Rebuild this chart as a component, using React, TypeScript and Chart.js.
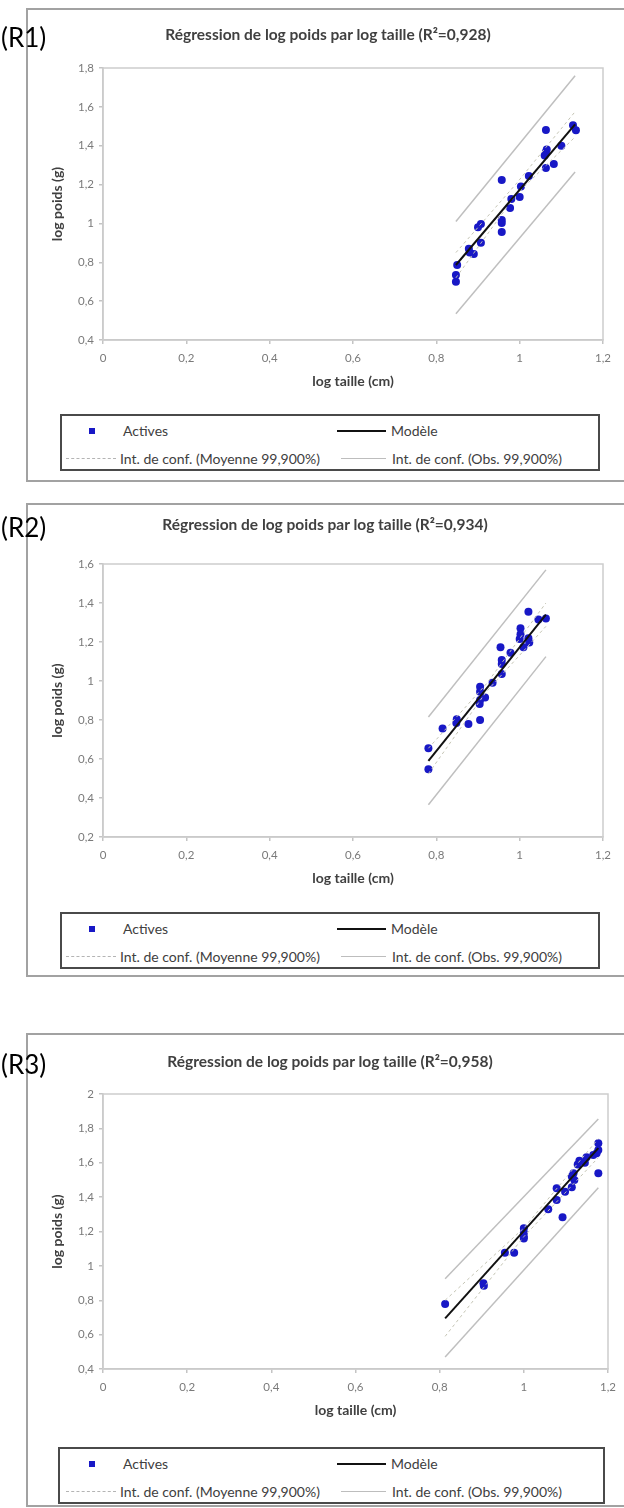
import { useEffect, useRef } from 'react';
import { Chart, registerables } from 'chart.js';

Chart.register(...registerables);

// ---------- shared labels ----------
const legendLabels = [
  'Actives',
  'Modèle',
  'Int. de conf. (Moyenne 99,900%)',
  'Int. de conf. (Obs. 99,900%)',
];
const xAxisTitle = 'log taille (cm)';
const yAxisTitle = 'log poids (g)';
const xTickValues = [0, 0.2, 0.4, 0.6, 0.8, 1, 1.2];

// ---------- R1 ----------
const r1Title = 'Régression de log poids par log taille (R²=0,928)';
const r1YTicks = [0.4, 0.6, 0.8, 1, 1.2, 1.4, 1.6, 1.8];
const r1X = [1.063, 1.128, 1.135, 1.063, 1.065, 1.06, 1.1, 1.063, 1.082, 1.022, 0.957, 1.003, 1.0, 0.98, 0.977, 0.957, 0.957, 0.957, 0.907, 0.9, 0.907, 0.878, 0.88, 0.89, 0.85, 0.847, 0.847];
const r1Y = [1.481, 1.505, 1.48, 1.368, 1.38, 1.35, 1.4, 1.285, 1.306, 1.244, 1.224, 1.19, 1.136, 1.126, 1.08, 1.018, 1.002, 0.956, 0.997, 0.98, 0.9, 0.87, 0.85, 0.843, 0.786, 0.735, 0.7];
const r1ModelX = [0.847, 1.133];
const r1ModelY = [0.786, 1.51];
const r1MeanX = [0.847, 0.99, 1.133];
const r1MeanUpper = [0.85, 1.2, 1.575];
const r1MeanLower = [0.72, 1.145, 1.445];
const r1ObsX = [0.847, 1.133];
const r1ObsUpper = [1.01, 1.76];
const r1ObsLower = [0.535, 1.265];

// ---------- R2 ----------
const r2Title = 'Régression de log poids par log taille (R²=0,934)';
const r2YTicks = [0.2, 0.4, 0.6, 0.8, 1, 1.2, 1.4, 1.6];
const r2X = [1.021, 1.045, 1.063, 1.002, 1.002, 1.021, 1.023, 1.009, 1.0, 0.954, 0.978, 0.957, 0.957, 0.957, 0.935, 0.905, 0.905, 0.917, 0.905, 0.904, 0.905, 0.877, 0.849, 0.848, 0.815, 0.781, 0.781];
const r2Y = [1.355, 1.316, 1.32, 1.27, 1.24, 1.219, 1.197, 1.173, 1.215, 1.173, 1.145, 1.108, 1.087, 1.036, 0.991, 0.971, 0.945, 0.916, 0.902, 0.882, 0.8, 0.78, 0.804, 0.785, 0.757, 0.655, 0.547];
const r2ModelX = [0.781, 1.063];
const r2ModelY = [0.59, 1.34];
const r2MeanX = [0.781, 0.92, 1.063];
const r2MeanUpper = [0.655, 0.985, 1.4];
const r2MeanLower = [0.525, 0.945, 1.28];
const r2ObsX = [0.781, 1.063];
const r2ObsUpper = [0.815, 1.57];
const r2ObsLower = [0.365, 1.125];

// ---------- R3 ----------
const r3Title = 'Régression de log poids par log taille (R²=0,958)';
const r3YTicks = [0.4, 0.6, 0.8, 1, 1.2, 1.4, 1.6, 1.8, 2];
const r3X = [1.177, 1.177, 1.173, 1.165, 1.149, 1.132, 1.145, 1.128, 1.177, 1.118, 1.114, 1.12, 1.114, 1.098, 1.078, 1.078, 1.058, 1.092, 1.0, 1.0, 1.0, 1.0, 0.977, 0.955, 0.904, 0.905, 0.813];
const r3Y = [1.713, 1.674, 1.655, 1.645, 1.632, 1.612, 1.6, 1.59, 1.539, 1.539, 1.52, 1.5, 1.457, 1.432, 1.451, 1.383, 1.329, 1.283, 1.219, 1.193, 1.17, 1.16, 1.077, 1.077, 0.899, 0.885, 0.778];
const r3ModelX = [0.813, 1.177];
const r3ModelY = [0.695, 1.685];
const r3MeanX = [0.813, 1.0, 1.177];
const r3MeanUpper = [0.8, 1.22, 1.74];
const r3MeanLower = [0.59, 1.17, 1.63];
const r3ObsX = [0.813, 1.177];
const r3ObsUpper = [0.925, 1.855];
const r3ObsLower = [0.47, 1.455];

type Series = { x: number[]; y: number[] };
type Panel = {
  tag: string;
  title: string;
  yTicks: number[];
  points: Series;
  model: Series;
  meanUpper: Series;
  meanLower: Series;
  obsUpper: Series;
  obsLower: Series;
  frameTop: number;
  titleCenter: number;
  titleX: number;
  plotTop: number;
  plotBottom: number;
  plotRight: number;
  legendTop: number;
  legendLeft: number;
  legendWidth: number;
};

const panels: Panel[] = [
  {
    tag: '(R1)', title: r1Title, yTicks: r1YTicks,
    points: { x: r1X, y: r1Y }, model: { x: r1ModelX, y: r1ModelY },
    meanUpper: { x: r1MeanX, y: r1MeanUpper }, meanLower: { x: r1MeanX, y: r1MeanLower },
    obsUpper: { x: r1ObsX, y: r1ObsUpper }, obsLower: { x: r1ObsX, y: r1ObsLower },
    frameTop: 8, titleCenter: 26, titleX: 328, plotTop: 60, plotBottom: 332, plotRight: 603,
    legendTop: 406, legendLeft: 60, legendWidth: 540,
  },
  {
    tag: '(R2)', title: r2Title, yTicks: r2YTicks,
    points: { x: r2X, y: r2Y }, model: { x: r2ModelX, y: r2ModelY },
    meanUpper: { x: r2MeanX, y: r2MeanUpper }, meanLower: { x: r2MeanX, y: r2MeanLower },
    obsUpper: { x: r2ObsX, y: r2ObsUpper }, obsLower: { x: r2ObsX, y: r2ObsLower },
    frameTop: 503, titleCenter: 21, titleX: 325, plotTop: 61, plotBottom: 334, plotRight: 603,
    legendTop: 409, legendLeft: 60, legendWidth: 540,
  },
  {
    tag: '(R3)', title: r3Title, yTicks: r3YTicks,
    points: { x: r3X, y: r3Y }, model: { x: r3ModelX, y: r3ModelY },
    meanUpper: { x: r3MeanX, y: r3MeanUpper }, meanLower: { x: r3MeanX, y: r3MeanLower },
    obsUpper: { x: r3ObsX, y: r3ObsUpper }, obsLower: { x: r3ObsX, y: r3ObsLower },
    frameTop: 1033, titleCenter: 28, titleX: 330, plotTop: 61, plotBottom: 336, plotRight: 608,
    legendTop: 414, legendLeft: 58, legendWidth: 547,
  },
];

const FONT = 'Lato, "Open Sans", sans-serif';
const CANVAS_LEFT = 28;
const CANVAS_WIDTH = 596;
const Y_AXIS_WIDTH = 75;
const X_AXIS_HEIGHT = 60;
const TEXT_GREY = '#404040';

const toXY = (s: Series) => s.x.map((x, i) => ({ x, y: s.y[i] }));
const fmt = (v: number) => String(v).replace('.', ',');

// light frame around the whole plotting area
const plotBox = {
  id: 'plotBox',
  beforeDatasetsDraw(chart: any) {
    const { ctx, chartArea: a } = chart;
    ctx.save();
    ctx.strokeStyle = '#cdcdcd';
    ctx.lineWidth = 1.5;
    ctx.strokeRect(a.left, a.top, a.right - a.left, a.bottom - a.top);
    ctx.restore();
  },
};

function RegressionPanel({ p }: { p: Panel }) {
  const ref = useRef<HTMLCanvasElement>(null);
  const canvasHeight = p.plotBottom + X_AXIS_HEIGHT;

  useEffect(() => {
    const obsStyle = { borderColor: '#bfbfbf', borderWidth: 1.5, pointRadius: 0, showLine: true, fill: false, order: 1 };
    const meanStyle = { borderColor: '#c4c4b4', borderWidth: 1, borderDash: [3, 3], pointRadius: 0, showLine: true, fill: false, order: 1 };
    const chart = new Chart(ref.current as HTMLCanvasElement, {
      type: 'scatter',
      data: {
        datasets: [
          { label: legendLabels[0], data: toXY(p.points), backgroundColor: '#1818c6', borderColor: '#1818c6', pointRadius: 4, pointBorderWidth: 0, order: 3 },
          { label: legendLabels[1], data: toXY(p.model), borderColor: '#111111', borderWidth: 2, pointRadius: 0, showLine: true, fill: false, order: 0 },
          { label: legendLabels[2], data: toXY(p.meanUpper), ...meanStyle },
          { label: legendLabels[2], data: toXY(p.meanLower), ...meanStyle },
          { label: legendLabels[3], data: toXY(p.obsUpper), ...obsStyle },
          { label: legendLabels[3], data: toXY(p.obsLower), ...obsStyle },
        ] as any,
      },
      options: {
        responsive: false,
        animation: false,
        devicePixelRatio: 1,
        layout: { padding: { left: 0, top: p.plotTop, bottom: 0, right: CANVAS_LEFT + CANVAS_WIDTH - p.plotRight } },
        plugins: {
          legend: { display: false },
          tooltip: { enabled: false },
          title: { display: false },
        },
        scales: {
          x: {
            type: 'linear',
            min: 0,
            max: 1.2,
            afterBuildTicks: (s: any) => { s.ticks = xTickValues.map((v) => ({ value: v })); },
            afterFit: (s: any) => { s.height = X_AXIS_HEIGHT; },
            grid: { drawOnChartArea: false, drawTicks: true, tickLength: 4, color: '#c4c4c4', lineWidth: 1.5 },
            border: { display: true, color: '#c4c4c4', width: 1.5 },
            ticks: { color: '#7a7a7a', padding: 7, font: { family: FONT, size: 11.5 }, callback: (v: any) => fmt(Number(v)), maxRotation: 0 },
            title: { display: true, text: xAxisTitle, color: TEXT_GREY, font: { family: FONT, size: 14, weight: 'bold' }, padding: { top: 0, bottom: 10 } },
          },
          y: {
            type: 'linear',
            min: p.yTicks[0],
            max: p.yTicks[p.yTicks.length - 1],
            afterBuildTicks: (s: any) => { s.ticks = p.yTicks.map((v) => ({ value: v })); },
            afterFit: (s: any) => { s.width = Y_AXIS_WIDTH; },
            grid: { drawOnChartArea: false, drawTicks: true, tickLength: 4, color: '#c4c4c4', lineWidth: 1.5 },
            border: { display: true, color: '#c4c4c4', width: 1.5 },
            ticks: { color: '#7a7a7a', padding: 5, font: { family: FONT, size: 11.5 }, callback: (v: any) => fmt(Number(v)) },
            title: { display: true, text: yAxisTitle, color: TEXT_GREY, font: { family: FONT, size: 14, weight: 'bold' }, padding: { top: 21, bottom: 0 } },
          },
        },
      } as any,
      plugins: [plotBox],
    });
    return () => chart.destroy();
  }, [p]);

  const text = { position: 'absolute' as const, lineHeight: '18px', whiteSpace: 'nowrap' as const };
  const lx = (x: number) => x - p.legendLeft - 2;
  return (
    <div style={{ position: 'absolute', left: 0, top: p.frameTop, width: 624, height: 476 }}>
      <div style={{ position: 'absolute', left: 26, top: 0, width: 640, height: 474, border: '2px solid #a2a2a2', boxSizing: 'border-box' }} />
      <canvas
        ref={ref}
        width={CANVAS_WIDTH}
        height={canvasHeight}
        style={{ position: 'absolute', left: CANVAS_LEFT, top: 0, width: CANVAS_WIDTH, height: canvasHeight }}
      />
      <div style={{ position: 'absolute', left: p.titleX - 300, width: 600, top: p.titleCenter - 10, lineHeight: '20px', textAlign: 'center', fontFamily: FONT, fontWeight: 700, fontSize: 15.5, color: TEXT_GREY, whiteSpace: 'nowrap' }}>
        {p.title}
      </div>
      <div style={{ position: 'absolute', left: 1, top: p.titleCenter - 14, fontFamily: FONT, fontSize: 26, lineHeight: '34px', color: '#000' }}>{p.tag}</div>
      <div style={{ position: 'absolute', left: p.legendLeft, top: p.legendTop, width: p.legendWidth, height: 57, border: '2px solid #4a4a4a', boxSizing: 'border-box', fontFamily: FONT, fontSize: 14, color: TEXT_GREY }}>
        <div style={{ position: 'absolute', left: lx(89), top: 12, width: 6, height: 6, background: '#1818c6' }} />
        <div style={{ ...text, left: lx(123), top: 6 }}>{legendLabels[0]}</div>
        <div style={{ position: 'absolute', left: lx(337), top: 14, width: 49, height: 0, borderTop: '2px solid #111' }} />
        <div style={{ ...text, left: lx(391), top: 6 }}>{legendLabels[1]}</div>
        <div style={{ position: 'absolute', left: lx(66), top: 42, width: 50, height: 0, borderTop: '1px dashed #b4b4b4' }} />
        <div style={{ ...text, left: lx(120), top: 34 }}>{legendLabels[2]}</div>
        <div style={{ position: 'absolute', left: lx(341), top: 42, width: 45, height: 0, borderTop: '1.5px solid #bdbdbd' }} />
        <div style={{ ...text, left: lx(392), top: 34 }}>{legendLabels[3]}</div>
      </div>
    </div>
  );
}

export default function App() {
  return (
    <div style={{ position: 'absolute', left: 0, top: 0, width: 624, height: 1508, overflow: 'hidden', background: '#fff' }}>
      {panels.map((p) => (
        <RegressionPanel key={p.tag} p={p} />
      ))}
    </div>
  );
}
